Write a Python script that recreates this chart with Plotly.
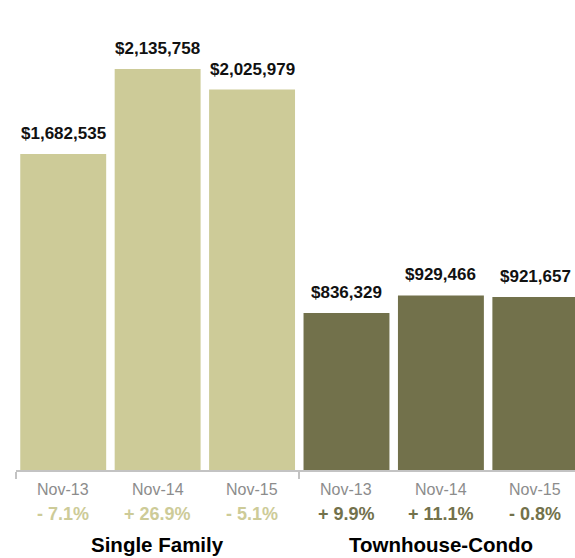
import plotly.graph_objects as go

# Median sale price by month, two property types
months = ["Nov-13", "Nov-14", "Nov-15"]
groups = ["Single Family", "Townhouse-Condo"]
single_family = [1682535, 2135758, 2025979]
townhouse_condo = [836329, 929466, 921657]
sf_change = [-7.1, 26.9, -5.1]
tc_change = [9.9, 11.1, -0.8]

SF_COLOR = "#cdcb98"
TC_COLOR = "#72714b"
FONT = "Liberation Sans, Arial, Helvetica, sans-serif"

PLOT_H = 470  # plot area height in pixels (top margin 0)


def paper_y(pixel):
    """Convert a pixel row (from top of figure) to paper coordinates."""
    return (PLOT_H - pixel) / PLOT_H


fig = go.Figure()
series = [
    (single_family, sf_change, SF_COLOR),
    (townhouse_condo, tc_change, TC_COLOR),
]

for g, (vals, chg, color) in enumerate(series):
    xs = [g * len(months) + i for i in range(len(months))]
    fig.add_bar(
        x=xs, y=vals, marker_color=color, marker_line_width=0,
        hoverinfo="skip", name=groups[g],
    )
    for x, v, c, m in zip(xs, vals, chg, months):
        fig.add_annotation(
            x=x, y=v, xref="x", yref="y", text=f"<b>${v:,}</b>",
            showarrow=False, yanchor="bottom", yshift=9,
            font=dict(family=FONT, size=17, color="#111111"),
        )
        fig.add_annotation(
            x=x, y=paper_y(489), xref="x", yref="paper", text=m,
            showarrow=False, yanchor="middle",
            font=dict(family=FONT, size=16, color="#8c8c8c"),
        )
        sign = "+" if c >= 0 else "-"
        fig.add_annotation(
            x=x, y=paper_y(514), xref="x", yref="paper",
            text=f"<b>{sign} {abs(c):.1f}%</b>",
            showarrow=False, yanchor="middle",
            font=dict(family=FONT, size=18, color=color),
        )
    fig.add_annotation(
        x=xs[1], y=paper_y(544), xref="x", yref="paper",
        text=f"<b>{groups[g]}</b>", showarrow=False, yanchor="middle",
        font=dict(family=FONT, size=20.5, color="#000000"),
    )

fig.update_layout(
    width=575, height=558,
    margin=dict(l=16, r=0, t=0, b=88, pad=0),
    paper_bgcolor="white", plot_bgcolor="white",
    showlegend=False, barmode="overlay", bargap=0.09,
    xaxis=dict(
        range=[-0.5, 5.42], tickvals=[-0.5, 2.5], showticklabels=False,
        ticks="outside", ticklen=7, tickwidth=2, tickcolor="#c3c3c3",
        showline=True, linecolor="#c3c3c3", linewidth=2,
        showgrid=False, zeroline=False, fixedrange=True,
    ),
    yaxis=dict(visible=False, range=[0, 2503250], fixedrange=True),
)

fig.write_html("out.html")
